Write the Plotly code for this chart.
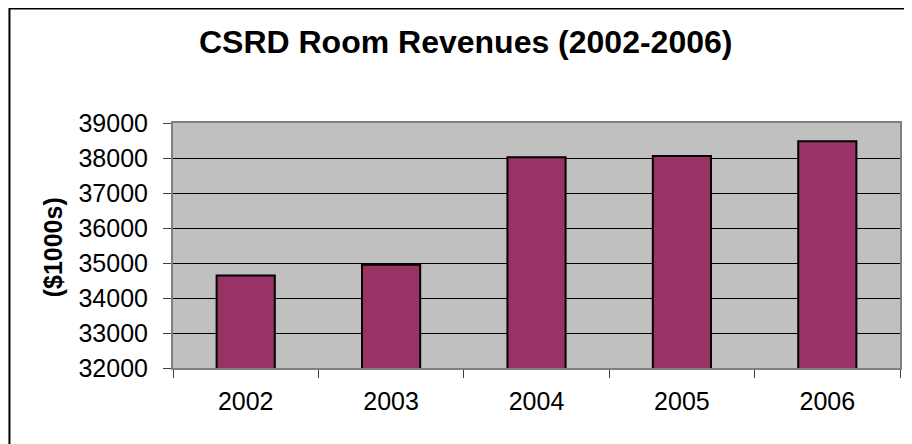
import plotly.graph_objects as go

years = ["2002", "2003", "2004", "2005", "2006"]
revenues = [34640, 34950, 38020, 38060, 38480]
y_ticks = [32000, 33000, 34000, 35000, 36000, 37000, 38000, 39000]

FONT = "Liberation Sans, Arial, sans-serif"

# the page body adds an 8px offset; figure coordinates below are relative to the figure
OFF = 8
W, H = 912 - OFF, 444 - OFF
L, R, T, B = 173 - OFF, 10, 123 - OFF, 76
pw = W - L - R
ph = H - T - B

def px_x(x):
    return (x - OFF - L) / pw

def px_y(y):
    return (H - B - (y - OFF)) / ph

fig = go.Figure(
    go.Bar(
        x=years,
        y=revenues,
        marker=dict(color="#993366", line=dict(color="black", width=2)),
    )
)

fig.update_layout(
    width=W,
    height=H,
    margin=dict(l=L, r=R, t=T, b=B),
    paper_bgcolor="white",
    plot_bgcolor="#C0C0C0",
    bargap=0.6,
    showlegend=False,
    font=dict(family=FONT, color="black", size=25),
    title=dict(
        text="<b>CSRD Room Revenues (2002-2006)</b>",
        x=(465.7 - OFF) / W,
        xanchor="center",
        y=1 - (42 - OFF) / H,
        yanchor="middle",
        font=dict(family=FONT, size=32, color="black"),
    ),
    xaxis=dict(
        type="category",
        showgrid=False,
        showline=True,
        linecolor="#808080",
        linewidth=2,
        mirror=True,
        ticks="outside",
        tickson="boundaries",
        ticklen=8,
        tickcolor="#404040",
        tickfont=dict(size=25),
        ticklabelstandoff=10,
    ),
    yaxis=dict(
        range=[32000, 39000],
        tickvals=y_ticks,
        ticktext=[str(v) for v in y_ticks],
        showgrid=True,
        gridcolor="black",
        gridwidth=1,
        showline=True,
        linecolor="#808080",
        linewidth=2,
        mirror=True,
        ticks="outside",
        ticklen=8,
        tickcolor="#404040",
        tickfont=dict(size=25),
        ticklabelstandoff=10,
        zeroline=False,
    ),
    annotations=[
        dict(
            text="<b>($1000s)</b>",
            textangle=-90,
            xref="paper",
            yref="paper",
            x=px_x(53),
            y=px_y(247),
            xanchor="center",
            yanchor="middle",
            showarrow=False,
            font=dict(family=FONT, size=25, color="black"),
        )
    ],
    shapes=[
        dict(
            type="rect",
            xref="paper",
            yref="paper",
            x0=px_x(9),
            x1=px_x(960),
            y0=px_y(480),
            y1=px_y(8.5),
            line=dict(color="black", width=2),
            fillcolor="rgba(0,0,0,0)",
            layer="above",
        )
    ],
)

fig.write_html("out.html")
